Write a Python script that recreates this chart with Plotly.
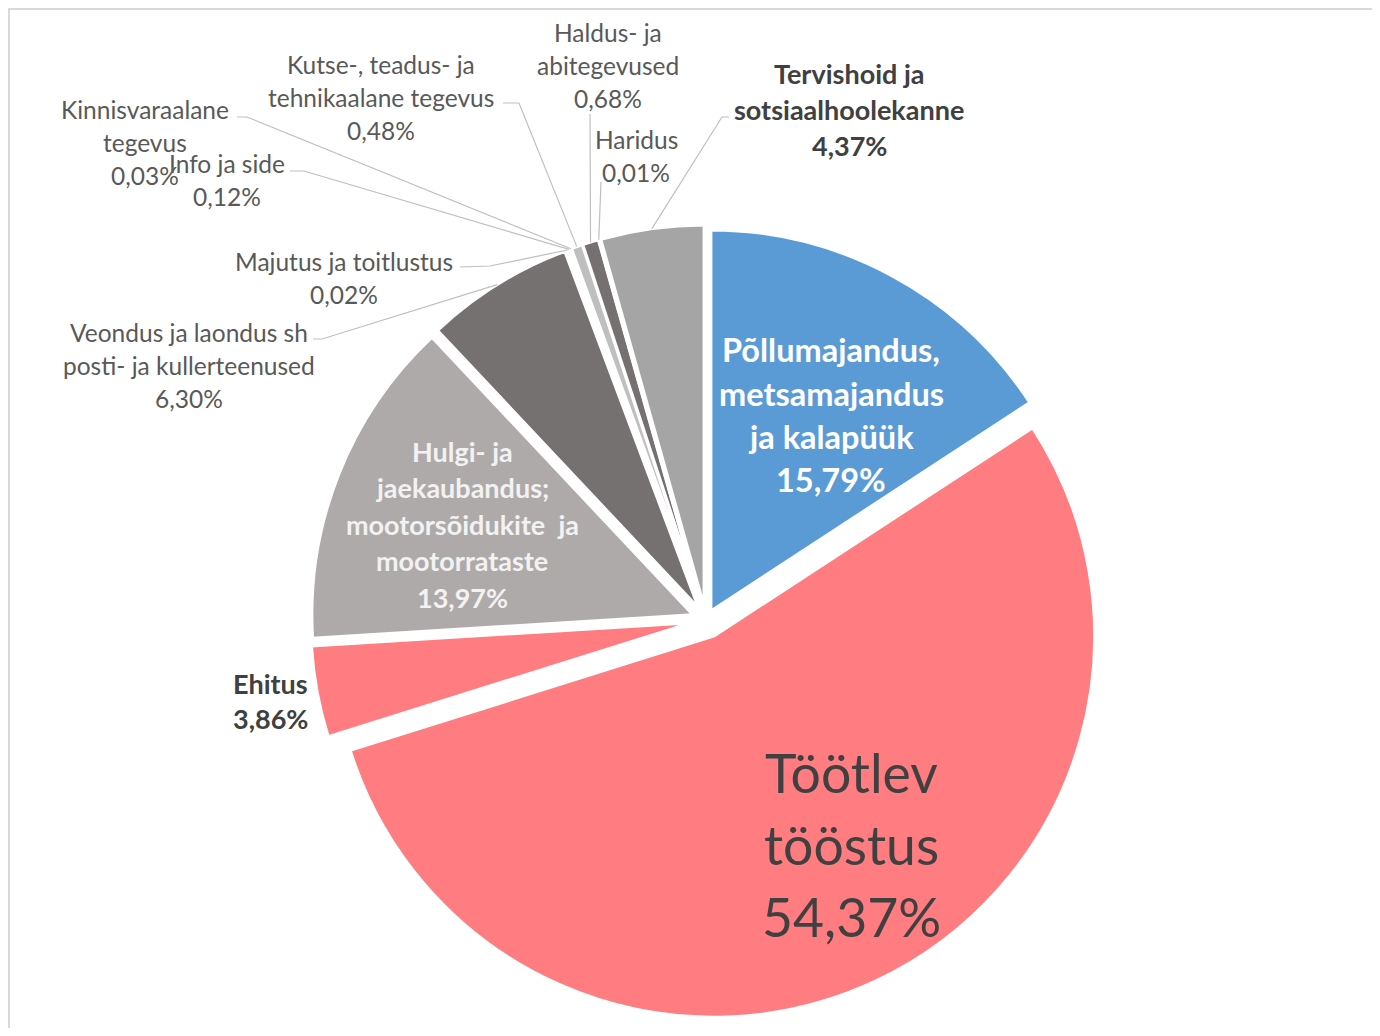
import math
import plotly.graph_objects as go

# ---------------- data ----------------
categories = [
    "Põllumajandus, metsamajandus ja kalapüük",
    "Töötlev tööstus",
    "Ehitus",
    "Hulgi- ja jaekaubandus; mootorsõidukite ja mootorrataste",
    "Veondus ja laondus sh posti- ja kullerteenused",
    "Majutus ja toitlustus",
    "Info ja side",
    "Kinnisvaraalane tegevus",
    "Kutse-, teadus- ja tehnikaalane tegevus",
    "Haldus- ja abitegevused",
    "Haridus",
    "Tervishoid ja sotsiaalhoolekanne",
]
values = [15.79, 54.37, 3.86, 13.97, 6.30, 0.02, 0.12, 0.03, 0.48, 0.68, 0.01, 4.37]
label_lines = [
    ["Põllumajandus,", "metsamajandus", "ja kalapüük"],
    ["Töötlev", "tööstus"],
    ["Ehitus"],
    ["Hulgi- ja", "jaekaubandus;", "mootorsõidukite  ja", "mootorrataste"],
    ["Veondus ja laondus sh", "posti- ja kullerteenused"],
    ["Majutus ja toitlustus"],
    ["Info ja side"],
    ["Kinnisvaraalane", "tegevus"],
    ["Kutse-, teadus- ja", "tehnikaalane tegevus"],
    ["Haldus- ja", "abitegevused"],
    ["Haridus"],
    ["Tervishoid ja", "sotsiaalhoolekanne"],
]

# ---------------- styles ----------------
colors = ["#5B9BD5", "#FF7C80", "#FF7C80", "#AEAAAA", "#767171", "#A5A5A5",
          "#D0CECE", "#AEAAAA", "#BFBFBF", "#767171", "#A5A5A5", "#A5A5A5"]
pulls = [0.027, 0.047, 0.038, 0.037, 0.037, 0.037, 0.037, 0.037, 0.037, 0.037, 0.037, 0.037]

FIG_W, FIG_H = 1364, 1020   # page has 8px body margin
OFF = 8
CX, CY, R = 706, 620, 381    # pie centre / radius in page pixels

def X(x):
    return (x - OFF) / FIG_W

def Y(y):
    return 1 - (y - OFF) / FIG_H

REG = "#595959"
DARK = "#404040"
FS_OUT = 24.5
# (centre x, first line y, line spacing, font size, colour, bold)
label_style = [
    (831, 350, 43, 32.5, "#FFFFFF", True),
    (851, 772, 72, 53.5, DARK, False),
    (270, 683, 35, 27, DARK, True),
    (462, 451, 36.5, 27, "#F2F2F2", True),
    (189, 332, 33, FS_OUT, REG, False),
    (344, 261, 33, FS_OUT, REG, False),
    (227, 163, 33, FS_OUT, REG, False),
    (145, 110, 33, FS_OUT, REG, False),
    (381, 64, 33, FS_OUT, REG, False),
    (608, 32, 33, FS_OUT, REG, False),
    (636, 140, 33, FS_OUT, REG, False),
    (849, 73, 36.5, 27, DARK, True),
]
# leader line start points near the labels (None = no leader)
leader_start = [
    None, None, None, None,
    [(313, 339), (322, 339)],
    [(460, 267), (490, 266)],
    [(290, 171), (304, 171)],
    [(237, 117), (247, 117)],
    [(503, 103), (519, 103)],
    [(590, 114)],
    [(601, 182)],
    [(729, 117), (722, 117)],
]

maxpull = max(pulls)
half = R * (1 + maxpull)
fx, fy = CX - OFF, CY - OFF
domain_x = [(fx - half) / FIG_W, (fx + half) / FIG_W]
domain_y = [(FIG_H - fy - half) / FIG_H, (FIG_H - fy + half) / FIG_H]

fig = go.Figure(go.Pie(
    labels=categories,
    values=values,
    sort=False,
    direction="clockwise",
    rotation=0,
    pull=pulls,
    marker=dict(colors=colors, line=dict(color="#FFFFFF", width=3)),
    textinfo="none",
    hoverinfo="label+percent",
    showlegend=False,
    domain=dict(x=domain_x, y=domain_y),
))

# slice bisector angles from the data
total = sum(values)
mids = []
cum = 0.0
for v in values:
    mids.append(math.radians((cum + v / 2) / total * 360))
    cum += v

annotations = []
shapes = []
for i, v in enumerate(values):
    cx, y0, sp, size, col, bold = label_style[i]
    pct = f"{v:.2f}".replace(".", ",") + "%"
    lines = label_lines[i] + [pct]
    for k, ln in enumerate(lines):
        annotations.append(dict(
            x=X(cx), y=Y(y0 + k * sp), xref="paper", yref="paper",
            text=ln, showarrow=False, xanchor="center", yanchor="middle",
            font=dict(family="Lato, 'Open Sans', sans-serif", size=size, color=col,
                      weight=700 if bold else 400),
        ))
    if leader_start[i]:
        rr = R * (1 + pulls[i])
        ex = CX + rr * math.sin(mids[i])
        ey = CY - rr * math.cos(mids[i])
        pts = leader_start[i] + [(ex, ey)]
        path = "M " + " L ".join(f"{X(px):.5f},{Y(py):.5f}" for px, py in pts)
        shapes.append(dict(type="path", path=path, xref="paper", yref="paper",
                           line=dict(color="#BFBFBF", width=1.2)))

# chart frame (top / left edge visible)
shapes.append(dict(type="rect", xref="paper", yref="paper",
                   x0=X(9), y0=Y(1100), x1=X(1500), y1=Y(9),
                   line=dict(color="#D9D9D9", width=2), fillcolor="rgba(0,0,0,0)",
                   layer="below"))

fig.update_layout(
    width=FIG_W, height=FIG_H, autosize=False,
    margin=dict(l=0, r=0, t=0, b=0),
    paper_bgcolor="#FFFFFF", plot_bgcolor="#FFFFFF",
    annotations=annotations, shapes=shapes,
    font=dict(family="Lato, 'Open Sans', sans-serif"),
)

fig.write_html("out.html")
